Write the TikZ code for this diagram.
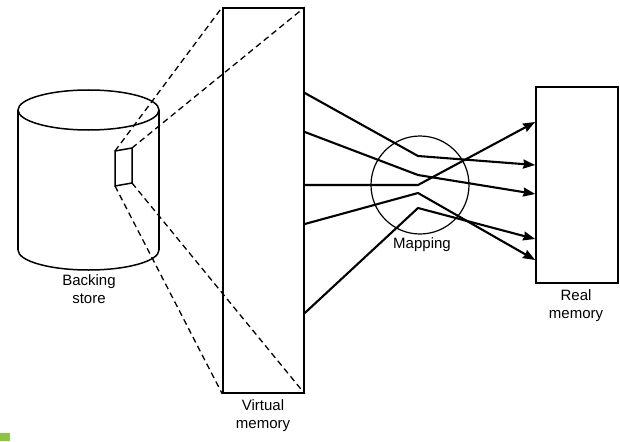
\documentclass[tikz,border=0pt]{standalone}
\usepackage{fontspec}
\setmainfont{Liberation Sans}
\usetikzlibrary{arrows.meta}
\definecolor{markgreen}{HTML}{8CC63F}
\tikzset{
  box/.style={draw, line width=1.6pt, inner sep=0pt, rectangle},
  dashline/.style={line width=1.3pt, dash pattern=on 6pt off 4pt},
  mapline/.style={line width=2.1pt, line join=round},
  maparrow/.style={mapline, -{Stealth[length=12pt,width=9pt,inset=1pt]}},
  lbl/.style={font=\fontsize{15}{18}\selectfont, align=center, inner sep=0pt}
}
\begin{document}
\begin{tikzpicture}[x=1pt,y=-1pt]
\useasboundingbox (0,0) rectangle (620,441);
\fill[white] (0,0) rectangle (620,441);
\fill[markgreen] (0,433) rectangle (10,441);

% backing store cylinder
\draw[line width=1.5pt] (18,110) -- (18,250);
\draw[line width=1.5pt] (159,110) -- (159,250);
\draw[line width=1.5pt] (88.5,110) ellipse [x radius=70.5pt, y radius=20pt];
\draw[line width=1.5pt] (18,250) arc[start angle=180, end angle=360, x radius=70.5pt, y radius=20pt];
\node[lbl] (bs) at (89,289) {Backing\\store};

% window on the cylinder
\coordinate (w1) at (115,151);
\coordinate (w2) at (132,148);
\coordinate (w3) at (132,183);
\coordinate (w4) at (115,186);
\draw[line width=1.5pt] (w1) -- (w2) -- (w3) -- (w4) -- cycle;

% virtual memory
\node[box, minimum width=81pt, minimum height=385pt] (vm) at (263.5,200.5) {};
\node[lbl] (vml) at (263,416) {Virtual\\memory};

% dashed projection
\draw[dashline] (w1) -- (vm.north west);
\draw[dashline] (w2) -- (vm.north east);
\draw[dashline] (w4) -- (vm.south west);
\draw[dashline] (w3) -- (vm.south east);

% real memory
\node[box, minimum width=82pt, minimum height=196pt] (rm) at (577,185) {};
\node[lbl] (rml) at (576,306) {Real\\memory};

% mapping circle
\node[draw, circle, line width=1.2pt, minimum size=98pt, inner sep=0pt] (map) at (420,185) {};
\node[lbl] (mapl) at (422,245) {Mapping};

% mapping lines
\coordinate (s1) at (vm.east |- 0,93);
\coordinate (s2) at (vm.east |- 0,132);
\coordinate (s3) at (vm.east |- 0,185);
\coordinate (s4) at (vm.east |- 0,224);
\coordinate (s5) at (vm.east |- 0,313);
\coordinate (k1) at (418,156);
\coordinate (k2) at (418,175);
\coordinate (k3) at (418,185);
\coordinate (k4) at (418,208);
\coordinate (k5) at (418,193);
\coordinate (t1) at (rm.west |- 0,122);
\coordinate (t2) at (rm.west |- 0,165);
\coordinate (t3) at (rm.west |- 0,194);
\coordinate (t4) at (rm.west |- 0,239);
\coordinate (t5) at (rm.west |- 0,260);

\draw[maparrow] (s1) -- (k1) -- (t2);
\draw[maparrow] (s2) -- (k2) -- (t3);
\draw[maparrow] (s3) -- (k3) -- (t1);
\draw[maparrow] (s4) -- (k5) -- (t5);
\draw[maparrow] (s5) -- (k4) -- (t4);
\end{tikzpicture}
\end{document}
